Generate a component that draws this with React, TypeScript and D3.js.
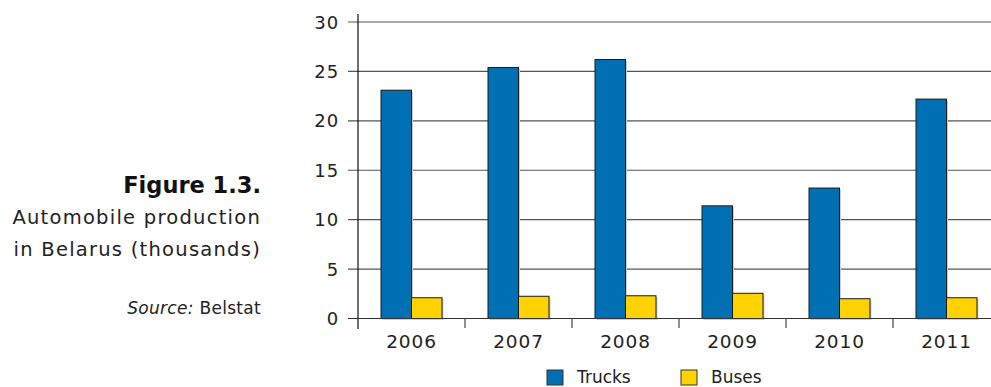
import React from "react";
import * as d3 from "d3";

const years = ["2006", "2007", "2008", "2009", "2010", "2011"];
const trucks = [23.1, 25.4, 26.2, 11.4, 13.2, 22.2];
const buses = [2.1, 2.25, 2.3, 2.55, 2.0, 2.1];
const yTicks = [0, 5, 10, 15, 20, 25, 30];
const seriesNames = ["Trucks", "Buses"];

const W = 991;
const H = 387;
const FONT = "'DejaVu Sans', 'Liberation Sans', sans-serif";
const BLUE = "#0070b5";
const YELLOW = "#ffd200";

export default function App() {
  const x = d3.scaleBand<string>().domain(years).range([358, 1000]).paddingInner(0).paddingOuter(0);
  const y = d3.scaleLinear().domain([0, 30]).range([318.5, 22]);
  const barW = 30.5;
  const series = [trucks, buses];
  const colors = [BLUE, YELLOW];

  return (
    <svg width={W} height={H} style={{ position: "absolute", left: 0, top: 0, background: "#fff" }} fontFamily={FONT}>
      {/* left caption */}
      <text x={261} y={193} textAnchor="end" fontSize={22.5} fontWeight="bold" fill="#111">Figure 1.3.</text>
      <text x={261} y={224} textAnchor="end" fontSize={19.5} letterSpacing={1.25} fill="#222">Automobile production</text>
      <text x={261} y={256} textAnchor="end" fontSize={19.5} letterSpacing={1.25} fill="#222">in Belarus (thousands)</text>
      <text x={261} y={314} textAnchor="end" fontSize={17} letterSpacing={0.3} fill="#222">
        <tspan fontStyle="italic">Source:</tspan> Belstat
      </text>

      {/* gridlines */}
      {yTicks.map((t) => (
        <g key={t}>
          <line x1={348} x2={991} y1={y(t)} y2={y(t)} stroke="#555" strokeWidth={1.2} />
          <text x={339} y={y(t) + 6.5} textAnchor="end" fontSize={18} letterSpacing={0.9} fill="#222">{t}</text>
        </g>
      ))}

      {/* bars */}
      {years.map((yr, i) => {
        const cx = (x(yr) as number) + x.bandwidth() / 2;
        return (
          <g key={yr}>
            {series.map((s, k) => {
              const bx = cx - barW + k * barW;
              const top = y(s[i]);
              return (
                <g key={k}>
                  <rect x={bx + 1.5} y={top + 1.5} width={barW} height={y(0) - top} fill="#cfcfcf" />
                  <rect x={bx} y={top} width={barW} height={y(0) - top} fill={colors[k]} stroke="#1a1a1a" strokeWidth={1} />
                </g>
              );
            })}
          </g>
        );
      })}

      {/* axes */}
      <line x1={358} x2={358} y1={14} y2={329} stroke="#111" strokeWidth={1.2} />
      <line x1={348} x2={991} y1={y(0)} y2={y(0)} stroke="#333" strokeWidth={1.2} />
      {years.slice(1).map((yr) => (
        <line key={yr} x1={x(yr) as number} x2={x(yr) as number} y1={y(0)} y2={328} stroke="#444" strokeWidth={1.2} />
      ))}
      {years.map((yr) => (
        <text key={yr} x={(x(yr) as number) + x.bandwidth() / 2} y={348} textAnchor="middle" fontSize={18.5} letterSpacing={0.9} fill="#222">{yr}</text>
      ))}

      {/* legend */}
      {seriesNames.map((n, k) => {
        const lx = k === 0 ? 547 : 681;
        return (
          <g key={n}>
            <rect x={lx} y={370} width={16} height={15} fill={colors[k]} stroke="#333" strokeWidth={1} />
            <text x={lx + 30} y={383} fontSize={17} fill="#222">{n}</text>
          </g>
        );
      })}
    </svg>
  );
}
